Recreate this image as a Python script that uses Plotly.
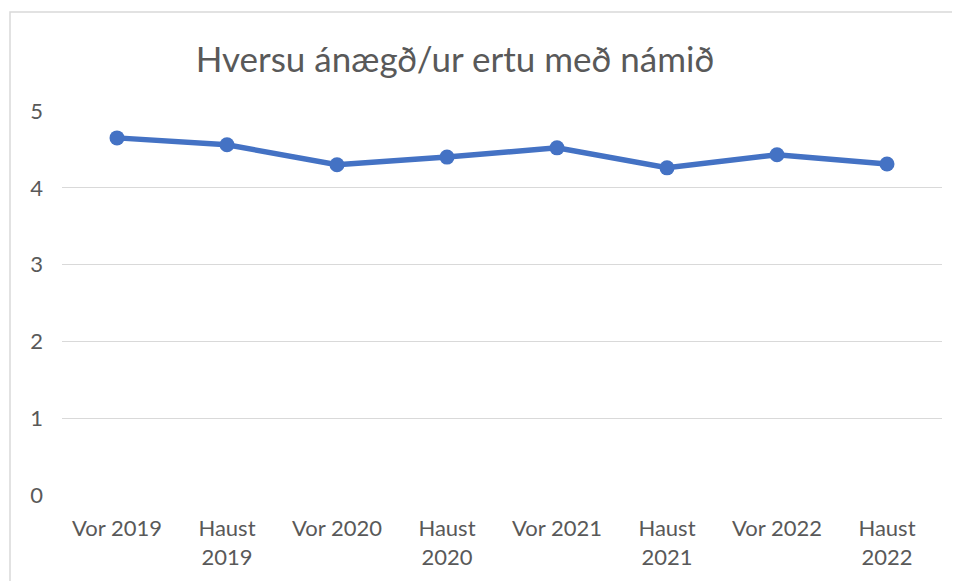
import plotly.graph_objects as go

categories = ["Vor 2019", "Haust<br>2019", "Vor 2020", "Haust<br>2020",
              "Vor 2021", "Haust<br>2021", "Vor 2022", "Haust<br>2022"]
values = [4.65, 4.56, 4.30, 4.40, 4.52, 4.26, 4.43, 4.31]
y_ticks = [0, 1, 2, 3, 4, 5]

W, H = 960, 581
OFF = 8  # default body margin of the page
PX0, PX1, PY0, PY1 = 62, 942, 111, 495  # plot area in page pixels
L, T = PX0 - OFF, PY0 - OFF
R, B = W - (PX1 - PX0) - L, H - (PY1 - PY0) - T
pw, ph = PX1 - PX0, PY1 - PY0

fig = go.Figure()
fig.add_trace(go.Scatter(
    x=list(range(len(categories))), y=values, mode="lines+markers",
    line=dict(color="#4472C4", width=5.5),
    marker=dict(color="#4472C4", size=15),
    hoverinfo="skip", showlegend=False,
))

fig.add_shape(type="rect", xref="paper", yref="paper",
              x0=(10 - PX0) / pw, x1=(1000 - PX0) / pw,
              y0=(PY1 - 650) / ph, y1=(PY1 - 12) / ph,
              line=dict(color="#d9d9d9", width=1.5), fillcolor="rgba(0,0,0,0)", layer="below")

fig.update_layout(
    width=W, height=H,
    margin=dict(l=L, r=R, t=T, b=B),
    paper_bgcolor="white", plot_bgcolor="white",
    font=dict(family="Lato, Open Sans, sans-serif", color="#595959", size=22),
    title=dict(text="Hversu ánægð/ur ertu með námið", x=(455 - OFF) / W, xanchor="center",
               y=1 - (60 - OFF) / H, yanchor="middle",
               font=dict(size=35, color="#595959", family="Lato, sans-serif")),
    xaxis=dict(tickmode="array", tickvals=list(range(len(categories))), ticktext=categories,
               range=[-0.5, len(categories) - 0.5], showgrid=False, zeroline=False,
               showline=False, tickangle=0, ticks="", ticklabelstandoff=18,
               tickfont=dict(size=22, color="#595959")),
    yaxis=dict(range=[0, 5], tickvals=y_ticks, showgrid=True, gridcolor="#d9d9d9",
               gridwidth=1.3, zeroline=False, showline=False, ticks="",
               ticklabelstandoff=18, tickfont=dict(size=22, color="#595959")),
)

fig.write_html("out.html")
